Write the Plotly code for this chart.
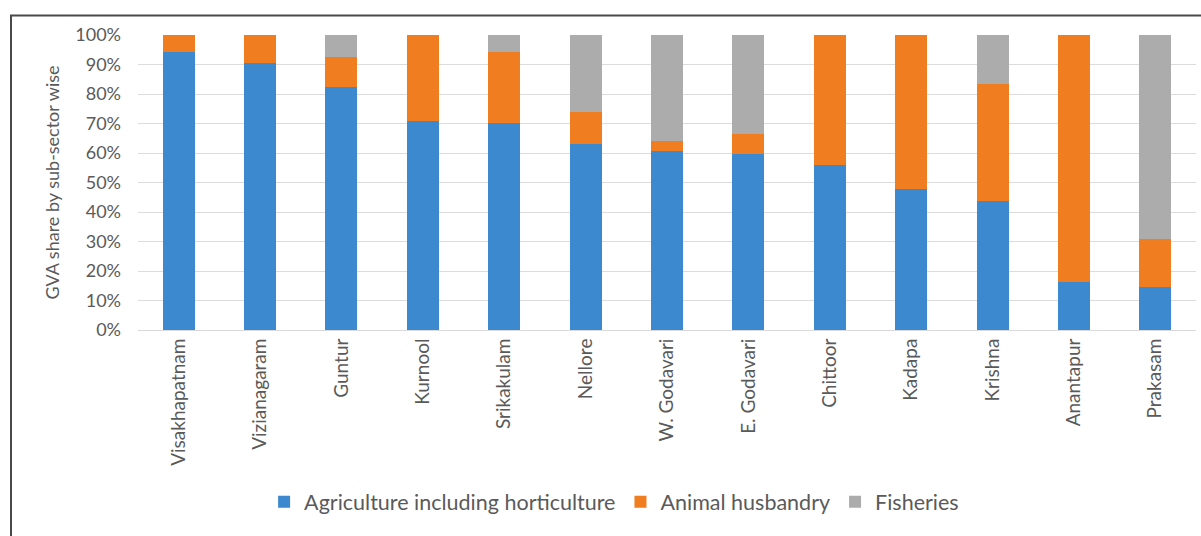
import plotly.graph_objects as go

# District-wise share of GVA by agricultural sub-sector (%)
districts = ["Visakhapatnam", "Vizianagaram", "Guntur", "Kurnool", "Srikakulam",
             "Nellore", "W. Godavari", "E. Godavari", "Chittoor", "Kadapa",
             "Krishna", "Anantapur", "Prakasam"]
agriculture = [94.2, 90.6, 82.3, 70.8, 70.2, 63.2, 60.6, 59.7, 55.9, 47.7, 43.9, 16.2, 14.5]
animal_husbandry = [5.8, 9.4, 10.3, 29.2, 24.0, 10.6, 3.4, 6.8, 44.1, 52.3, 39.6, 83.8, 16.2]
fisheries = [0.0, 0.0, 7.4, 0.0, 5.8, 26.2, 36.0, 33.5, 0.0, 0.0, 16.5, 0.0, 69.3]

series = [
    ("Agriculture including horticulture", agriculture, "#3d89cf"),
    ("Animal husbandry", animal_husbandry, "#f07e21"),
    ("Fisheries", fisheries, "#acacac"),
]

FONT = "Lato, Carlito, Calibri, sans-serif"
TEXT = "#5a5a5a"

fig = go.Figure()
for name, vals, color in series:
    fig.add_trace(go.Bar(
        x=districts, y=vals, name=name,
        marker=dict(color=color, line=dict(width=0)),
    ))

fig.update_layout(
    barmode="stack",
    bargap=0.607,
    width=1201, height=536,
    margin=dict(l=138, r=5, t=34.5, b=206, autoexpand=False),
    paper_bgcolor="white",
    plot_bgcolor="white",
    font=dict(family=FONT, color=TEXT, size=18),
    showlegend=True,
    legend=dict(
        orientation="h",
        x=0.45, xanchor="center",
        y=-0.582, yanchor="middle",
        font=dict(size=21.5, color=TEXT, family=FONT),
        itemwidth=30,
        traceorder="normal",
    ),
    xaxis=dict(
        tickangle=-90,
        tickfont=dict(size=19, color=TEXT),
        showgrid=False,
        showline=True, linecolor="#d9d9d9", linewidth=1,
        ticks="", ticklen=0,
    ),
    yaxis=dict(
        range=[0, 100],
        dtick=10,
        ticksuffix="%",
        tickfont=dict(size=18, color=TEXT),
        ticklabelstandoff=16,
        showgrid=True, gridcolor="#dcdcdc", gridwidth=1,
        zeroline=False,
        ticks="", ticklen=0,
        title=dict(text="GVA share by sub-sector wise", font=dict(size=18, color=TEXT), standoff=10),
    ),
    shapes=[
        # outer frame around the chart
        dict(type="rect", xref="paper", yref="paper",
             x0=(11 - 138) / 1058, x1=1.03,
             y0=-0.8, y1=1 + (34.5 - 15) / 295.5,
             line=dict(color="#4a4a4a", width=2), fillcolor="rgba(0,0,0,0)",
             layer="above"),
    ],
)

fig.write_html("out.html")
